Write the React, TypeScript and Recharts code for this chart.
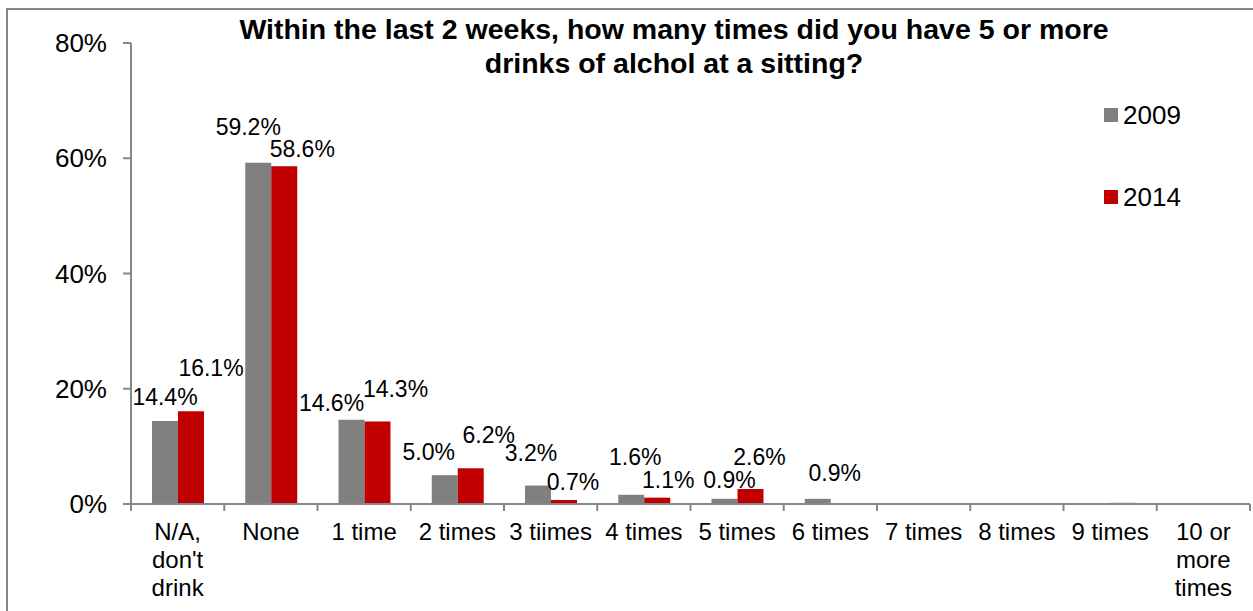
import { BarChart, Bar, XAxis, YAxis, LabelList } from "recharts";

const categories = [
  "N/A, don't drink",
  "None",
  "1 time",
  "2 times",
  "3 tiimes",
  "4 times",
  "5 times",
  "6 times",
  "7 times",
  "8 times",
  "9 times",
  "10 or more times",
];
const values2009 = [14.4, 59.2, 14.6, 5.0, 3.2, 1.6, 0.9, 0.9, 0, 0, 0, 0];
const values2014 = [16.1, 58.6, 14.3, 6.2, 0.7, 1.1, 2.6, 0, 0, 0, 0.2, 0];
const yTicks = [0, 20, 40, 60, 80];

const title = "Within the last 2 weeks, how many times did you have 5 or more drinks of alchol at a sitting?";

// label nudges (dx, dy from bar top) to mimic the hand-placed Excel labels
const nudge2009: [number, number][] = [
  [0, -24], [-10, -36], [-20, -17], [-16, -23], [-7, -33], [4, -38],
  [5, -19], [17, -26], [0, -20], [0, -20], [0, -20], [0, -20],
];
const nudge2014: [number, number][] = [
  [20, -43], [18, -17], [18, -33], [18, -33], [9, -18], [11, -18],
  [9, -32], [0, -20], [0, -20], [0, -20], [0, -20], [0, -20],
];

const series = [
  { key: "y2009", label: "2009", color: "#808080", nudge: nudge2009 },
  { key: "y2014", label: "2014", color: "#C00000", nudge: nudge2014 },
];

const data = categories.map((c, i) => ({ name: c, y2009: values2009[i], y2014: values2014[i] }));

const FONT = "'Liberation Sans', Arial, sans-serif";
const W = 1253;
const H = 611;
const PLOT_LEFT = 131;
const PLOT_RIGHT = 1250;
const BAND = (PLOT_RIGHT - PLOT_LEFT) / categories.length;

let ctx: CanvasRenderingContext2D | null = null;
function wrap(text: string, maxW: number): string[] {
  if (!ctx) ctx = document.createElement("canvas").getContext("2d");
  if (ctx) ctx.font = `24px ${FONT}`;
  const words = text.split(" ");
  const lines: string[] = [];
  let cur = "";
  for (const w of words) {
    const t = cur ? cur + " " + w : w;
    const width = ctx ? ctx.measureText(t).width : t.length * 13;
    if (cur && width > maxW) {
      lines.push(cur);
      cur = w;
    } else cur = t;
  }
  if (cur) lines.push(cur);
  return lines;
}

function CatTick(props: any) {
  const { x, y, payload, index } = props;
  const lines = wrap(payload.value, 90);
  return (
    <g>
      <line x1={x - BAND / 2} x2={x - BAND / 2} y1={y} y2={y + 7} stroke="#868686" strokeWidth={2} />
      {index === categories.length - 1 && (
        <line x1={x + BAND / 2} x2={x + BAND / 2} y1={y} y2={y + 7} stroke="#868686" strokeWidth={2} />
      )}
      <text x={x} y={y + 36} textAnchor="middle" fontSize={24} fill="#000" fontFamily={FONT}>
        {lines.map((l, i) => (
          <tspan key={i} x={x} dy={i === 0 ? 0 : 28}>
            {l}
          </tspan>
        ))}
      </text>
    </g>
  );
}

function makeLabel(nudge: [number, number][]) {
  return (props: any) => {
    const { x, y, width, value, index } = props;
    if (value == null || value < 0.5) return null;
    const [dx, dy] = nudge[index] ?? [0, -20];
    return (
      <text
        x={x + width / 2 + dx}
        y={y + dy}
        textAnchor="middle"
        dominantBaseline="central"
        fontSize={23}
        fill="#000"
        fontFamily={FONT}
      >
        {value.toFixed(1)}%
      </text>
    );
  };
}

export default function App() {
  return (
    <div style={{ position: "relative", width: W, height: H, overflow: "hidden", background: "#fff", fontFamily: FONT }}>
      <style>{`body{margin:0;overflow:hidden}`}</style>
      <div
        style={{
          position: "absolute",
          left: 6,
          top: 8,
          width: 1400,
          height: 800,
          border: "2px solid #868686",
        }}
      />
      <div style={{ position: "absolute", left: 0, top: 0 }}>
        <BarChart
          width={W}
          height={H}
          data={data}
          margin={{ top: 43, right: W - PLOT_RIGHT, bottom: 7, left: 51 }}
          barSize={26}
          barGap={0}
        >
          <YAxis
            width={80}
            domain={[0, 80]}
            ticks={yTicks}
            tickFormatter={(v: number) => `${v}%`}
            axisLine={{ stroke: "#868686", strokeWidth: 2 }}
            tickLine={{ stroke: "#868686", strokeWidth: 2 }}
            tickSize={8}
            tickMargin={16}
            tick={{ fontSize: 26, fill: "#000", fontFamily: FONT }}
          />
          <XAxis
            dataKey="name"
            height={100}
            interval={0}
            tickLine={false}
            tickSize={0}
            tickMargin={0}
            axisLine={{ stroke: "#868686", strokeWidth: 2 }}
            tick={<CatTick />}
          />
          {series.map((s) => (
            <Bar key={s.key} dataKey={s.key} fill={s.color} isAnimationActive={false}>
              <LabelList dataKey={s.key} content={makeLabel(s.nudge)} />
            </Bar>
          ))}
        </BarChart>
      </div>
      <div
        style={{
          position: "absolute",
          left: 224,
          top: 12,
          width: 900,
          textAlign: "center",
          fontWeight: "bold",
          fontSize: 28.5,
          lineHeight: "34px",
          color: "#000",
        }}
      >
        {title}
      </div>
      {series.map((s, i) => (
        <div
          key={s.key}
          style={{
            position: "absolute",
            left: 1104,
            top: 115 + i * 82 - 16,
            height: 32,
            display: "flex",
            alignItems: "center",
            fontSize: 26,
            color: "#000",
          }}
        >
          <span style={{ display: "inline-block", width: 14, height: 14, background: s.color, marginRight: 5 }} />
          {s.label}
        </div>
      ))}
    </div>
  );
}
